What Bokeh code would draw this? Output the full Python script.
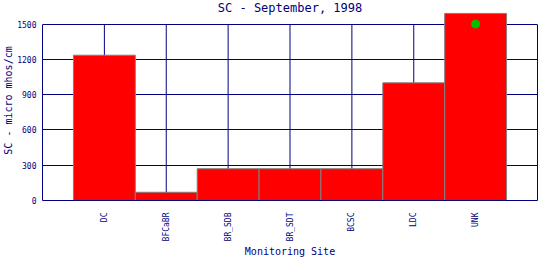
from bokeh.plotting import figure
from bokeh.models import Range1d, FixedTicker, LinearAxis, Label, ColumnDataSource
from bokeh.embed import file_html
from bokeh.resources import INLINE

# ---- data ----
sites = ["DC", "BFCaBR", "BR_SDB", "BR_SDT", "BCSC", "LDC", "UNK"]
sc_values = [1235, 70, 270, 270, 270, 1000, 1590]
marker_sites = ["UNK"]
marker_values = [1500]
y_ticks = [0, 300, 600, 900, 1200, 1500]
title_text = "SC - September, 1998"
x_label = "Monitoring Site"
y_label = "SC - micro mhos/cm"

NAVY = "#000080"
FONT = "DejaVu Sans Mono"

pos = {s: i + 1 for i, s in enumerate(sites)}
xs = [pos[s] for s in sites]
y_top = max(y_ticks)

p = figure(width=540, height=260, output_backend="svg", toolbar_location=None,
           x_range=Range1d(0, len(sites) + 1), y_range=Range1d(0, 1700),
           min_border_left=42, min_border_right=3, min_border_top=0,
           min_border_bottom=60)
p.outline_line_color = None
p.background_fill_color = "white"
p.border_fill_color = "white"

# axes
p.xaxis.ticker = FixedTicker(ticks=xs)
p.xaxis.major_label_overrides = {x: s for x, s in zip(xs, sites)}
p.xaxis.major_label_orientation = 1.5707963
p.xaxis.major_tick_line_color = None
p.xaxis.minor_tick_line_color = None
p.xaxis.axis_line_color = NAVY
p.xaxis.major_label_text_font = FONT
p.xaxis.major_label_text_font_size = "8px"
p.xaxis.major_label_text_color = NAVY
p.xaxis.major_label_standoff = 6
p.xaxis.axis_label = x_label
p.xaxis.axis_label_text_font = FONT
p.xaxis.axis_label_text_font_size = "10px"
p.xaxis.axis_label_text_font_style = "normal"
p.xaxis.axis_label_text_color = NAVY
p.xaxis.axis_label_standoff = 2

p.yaxis.ticker = FixedTicker(ticks=y_ticks)
p.yaxis.bounds = (0, y_top)
p.yaxis.major_tick_line_color = None
p.yaxis.minor_tick_line_color = None
p.yaxis.axis_line_color = NAVY
p.yaxis.major_label_text_font = FONT
p.yaxis.major_label_text_font_size = "8px"
p.yaxis.major_label_text_color = NAVY
p.yaxis.major_label_standoff = 0
p.yaxis.axis_label = y_label
p.yaxis.axis_label_text_font = FONT
p.yaxis.axis_label_text_font_size = "10px"
p.yaxis.axis_label_text_font_style = "normal"
p.yaxis.axis_label_text_color = NAVY
p.yaxis.axis_label_standoff = 0

right_axis = LinearAxis(ticker=FixedTicker(ticks=[]), bounds=(0, y_top),
                        axis_line_color=NAVY, major_tick_line_color=None,
                        minor_tick_line_color=None, major_label_text_font_size="0px")
p.add_layout(right_axis, "right")

# grids
p.xgrid.visible = False
p.ygrid.ticker = FixedTicker(ticks=y_ticks)
p.ygrid.grid_line_color = NAVY
p.ygrid.grid_line_width = 1

# vertical grid lines, stopping at the top tick
p.segment(x0=xs, y0=[0] * len(xs), x1=xs, y1=[y_top] * len(xs),
          line_color=NAVY, line_width=1)

# bars
src = ColumnDataSource(dict(x=xs, top=sc_values))
p.vbar(x="x", top="top", bottom=0, width=1.0, source=src,
       fill_color="#ff0000", line_color="#808080", line_width=1)

# marker
p.scatter(x=[pos[s] for s in marker_sites], y=marker_values, size=8,
          marker="circle", fill_color="#00c000", line_color="#00c000")

# title inside the top area
p.add_layout(Label(x=(len(sites) + 1) / 2, y=1635, text=title_text,
                   text_align="center", text_baseline="middle",
                   text_font=FONT, text_font_size="12px", text_color=NAVY))

open("out.html", "w").write(file_html(p, INLINE))
